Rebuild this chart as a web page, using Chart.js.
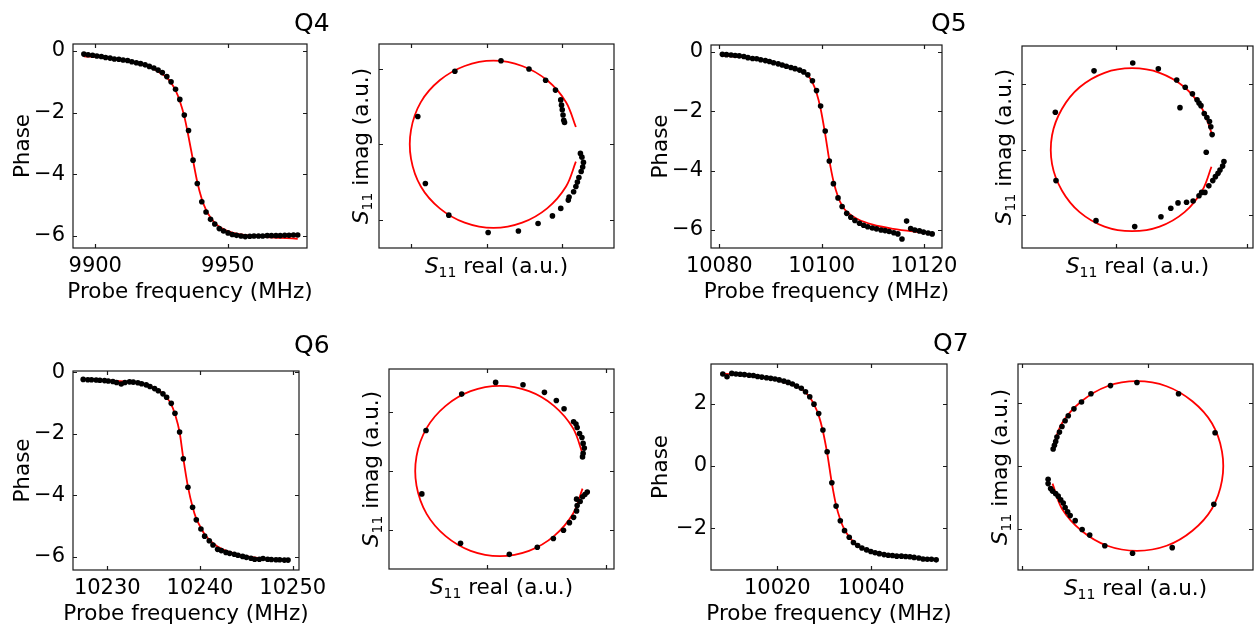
<!DOCTYPE html>
<html>
<head>
<meta charset="utf-8">
<script src="https://cdn.jsdelivr.net/npm/chart.js"></script>
<style>
  body { margin: 0; background: #fff; width: 1255px; height: 628px; position: relative; overflow: hidden; }
  canvas { position: absolute; }
</style>
</head>
<body>
<script>
// ---- phase vs probe frequency (dots) ----
const q4Freq = [9895.7, 9897.3, 9899.0, 9900.6, 9902.3, 9903.9, 9905.6, 9907.2, 9908.9, 9910.5,
  9912.2, 9913.8, 9915.5, 9917.1, 9918.8, 9920.4, 9922.1, 9923.7, 9925.3, 9927.0,
  9928.6, 9930.3, 9931.9, 9933.6, 9935.2, 9936.9, 9938.5, 9940.2, 9941.8, 9943.5,
  9945.1, 9946.8, 9948.4, 9950.1, 9951.7, 9953.3, 9955.0, 9956.6, 9958.3, 9959.9,
  9961.6, 9963.2, 9964.9, 9966.5, 9968.2, 9969.8, 9971.5, 9973.1, 9974.8, 9976.4];
const q4Phase = [-0.10, -0.12, -0.14, -0.16, -0.18, -0.21, -0.23, -0.26, -0.27, -0.29,
  -0.31, -0.35, -0.38, -0.41, -0.45, -0.50, -0.55, -0.62, -0.70, -0.83,
  -1.00, -1.24, -1.57, -2.08, -2.58, -3.54, -4.30, -4.89, -5.22, -5.46,
  -5.61, -5.76, -5.84, -5.90, -5.95, -5.98, -6.00, -6.02, -6.01, -6.00,
  -6.00, -6.00, -5.99, -5.99, -5.99, -5.99, -5.98, -5.98, -5.97, -5.97];

const q5Freq = [10080.6, 10081.4, 10082.3, 10083.1, 10083.9, 10084.8, 10085.6, 10086.5, 10087.3, 10088.1,
  10089.0, 10089.8, 10090.6, 10091.5, 10092.3, 10093.1, 10094.0, 10094.8, 10095.7, 10096.5,
  10097.3, 10098.2, 10099.0, 10099.8, 10100.7, 10101.5, 10102.3, 10103.2, 10104.0, 10104.9,
  10105.7, 10106.5, 10107.4, 10108.2, 10109.0, 10109.9, 10110.7, 10111.6, 10112.4, 10113.2,
  10114.1, 10114.9, 10115.7, 10116.6, 10117.4, 10118.2, 10119.1, 10119.9, 10120.8, 10121.6];
const q5Phase = [-0.09, -0.10, -0.11, -0.13, -0.14, -0.16, -0.20, -0.23, -0.24, -0.27,
  -0.30, -0.33, -0.37, -0.41, -0.45, -0.49, -0.53, -0.57, -0.62, -0.68,
  -0.78, -0.98, -1.31, -1.83, -2.67, -3.68, -4.44, -4.92, -5.21, -5.44,
  -5.57, -5.68, -5.77, -5.84, -5.89, -5.93, -5.96, -6.00, -6.02, -6.05,
  -6.09, -6.13, -6.30, -5.70, -5.95, -6.00, -6.03, -6.07, -6.10, -6.13];

const q6Freq = [10227.4, 10227.9, 10228.3, 10228.8, 10229.2, 10229.7, 10230.1, 10230.6, 10231.0, 10231.5,
  10231.9, 10232.4, 10232.8, 10233.3, 10233.7, 10234.2, 10234.6, 10235.1, 10235.5, 10236.0,
  10236.4, 10236.9, 10237.3, 10237.8, 10238.2, 10238.7, 10239.2, 10239.6, 10240.1, 10240.5,
  10241.0, 10241.4, 10241.9, 10242.3, 10242.8, 10243.2, 10243.7, 10244.1, 10244.6, 10245.0,
  10245.5, 10245.9, 10246.4, 10246.8, 10247.3, 10247.7, 10248.2, 10248.6, 10249.1, 10249.5];
const q6Phase = [-0.23, -0.24, -0.24, -0.25, -0.26, -0.27, -0.28, -0.30, -0.33, -0.38,
  -0.33, -0.31, -0.32, -0.34, -0.37, -0.41, -0.46, -0.53, -0.60, -0.70,
  -0.81, -1.01, -1.33, -1.94, -2.81, -3.74, -4.39, -4.80, -5.10, -5.33,
  -5.48, -5.62, -5.76, -5.80, -5.86, -5.89, -5.92, -5.95, -5.99, -6.02,
  -6.05, -6.08, -6.08, -6.06, -6.08, -6.09, -6.10, -6.10, -6.11, -6.11];

const q7Freq = [10008.4, 10009.3, 10010.3, 10011.2, 10012.1, 10013.0, 10014.0, 10014.9, 10015.8, 10016.7,
  10017.7, 10018.6, 10019.5, 10020.4, 10021.4, 10022.3, 10023.2, 10024.1, 10025.1, 10026.0,
  10026.9, 10027.8, 10028.8, 10029.7, 10030.6, 10031.6, 10032.5, 10033.4, 10034.3, 10035.3,
  10036.2, 10037.1, 10038.0, 10039.0, 10039.9, 10040.8, 10041.7, 10042.7, 10043.6, 10044.5,
  10045.4, 10046.4, 10047.3, 10048.2, 10049.1, 10050.1, 10051.0, 10051.9, 10052.8, 10053.8];
const q7Phase = [2.96, 2.87, 2.98, 2.96, 2.95, 2.94, 2.92, 2.91, 2.88, 2.86,
  2.84, 2.82, 2.80, 2.77, 2.73, 2.69, 2.64, 2.57, 2.50, 2.39,
  2.23, 1.99, 1.69, 1.16, 0.46, -0.54, -1.29, -1.76, -2.08, -2.29,
  -2.46, -2.56, -2.64, -2.70, -2.75, -2.79, -2.82, -2.85, -2.87, -2.88,
  -2.90, -2.90, -2.91, -2.92, -2.94, -2.96, -2.99, -3.00, -3.00, -3.02];

// ---- phase fits (red) ----
const q4FitFreq = [9895.7, 9903, 9910, 9915, 9919, 9922, 9924.5, 9927.0, 9928.6, 9930.3, 9931.9, 9933.6,
  9935.2, 9936.9, 9938.5, 9940.2, 9941.8, 9943.5, 9946, 9950, 9955, 9962, 9970, 9976.4];
const q4FitPhase = [-0.17, -0.22, -0.29, -0.37, -0.47, -0.58, -0.71, -0.86, -1.03, -1.28, -1.62, -2.12,
  -2.78, -3.55, -4.25, -4.80, -5.15, -5.40, -5.65, -5.84, -5.95, -6.02, -6.06, -6.09];

const q5FitFreq = [10080.6, 10085, 10089, 10092, 10094.5, 10096.5, 10097.3, 10098.2, 10099.0, 10099.8, 10100.7,
  10101.5, 10102.3, 10103.2, 10104.0, 10105, 10107, 10110, 10114, 10118, 10121.6];
const q5FitPhase = [-0.13, -0.20, -0.30, -0.42, -0.56, -0.70, -0.80, -1.03, -1.38, -1.92, -2.78,
  -3.65, -4.35, -4.88, -5.18, -5.40, -5.63, -5.82, -5.96, -6.05, -6.11];

const q6FitFreq = [10227.4, 10230, 10232, 10233.5, 10234.6, 10235.5, 10236.0, 10236.4, 10236.9, 10237.3, 10237.8,
  10238.2, 10238.7, 10239.2, 10239.6, 10240.1, 10240.5, 10241.4, 10242.5, 10244, 10246, 10249.5];
const q6FitPhase = [-0.22, -0.26, -0.30, -0.36, -0.45, -0.59, -0.69, -0.82, -1.04, -1.36, -1.95,
  -2.80, -3.72, -4.38, -4.76, -5.06, -5.27, -5.56, -5.77, -5.92, -6.03, -6.12];

const q7FitFreq = [10008.4, 10013, 10017, 10020, 10022.3, 10024.1, 10025.1, 10026.0, 10026.9, 10027.8, 10028.8,
  10029.7, 10030.6, 10031.6, 10032.5, 10033.4, 10034.3, 10035.3, 10036.2, 10038, 10042, 10048, 10053.8];
const q7FitPhase = [2.97, 2.92, 2.85, 2.76, 2.66, 2.56, 2.48, 2.37, 2.21, 1.98, 1.63,
  1.12, 0.42, -0.55, -1.26, -1.73, -2.05, -2.28, -2.44, -2.64, -2.81, -2.94, -3.03];

// ---- S11 in the complex plane (dots, arbitrary units) ----
const q4Re = [0.19, -0.42, -0.91, -0.81, -0.50, 0.02, 0.42, 0.68, 0.87, 0.98, 1.08, 1.09, 1.15, 1.18, 1.20,
  1.22, 1.25, 1.27, 1.28, 1.26, 1.24, 0.56, 0.78, 0.91, 0.98, 0.99, 1.00, 1.01, 1.02, 1.03];
const q4Im = [1.11, 0.97, 0.37, -0.52, -0.94, -1.17, -1.15, -1.05, -0.95, -0.85, -0.74, -0.70, -0.63, -0.56, -0.50,
  -0.44, -0.36, -0.30, -0.24, -0.17, -0.12, 1.00, 0.85, 0.72, 0.59, 0.52, 0.46, 0.39, 0.32, 0.29];

const q5Re = [0.26, -0.33, 0.65, 0.93, 1.06, 1.17, 1.24, 1.27, 1.30, 1.35, 1.39, 1.43, 1.45, 1.47, 0.98, 1.38,
  -0.92, -0.91, -0.30, 0.29, 0.69, 0.84, 0.95, 1.08, 1.18, 1.27, 1.31, 1.36, 1.42, 1.48, 1.52, 1.56, 1.59, 1.63, 1.65];
const q5Im = [1.32, 1.20, 1.23, 1.06, 0.95, 0.85, 0.76, 0.71, 0.67, 0.55, 0.49, 0.43, 0.35, 0.23, 0.64, -0.04,
  0.57, -0.47, -1.08, -1.17, -1.02, -0.89, -0.81, -0.80, -0.78, -0.70, -0.65, -0.65, -0.55, -0.47, -0.41, -0.36, -0.31, -0.25, -0.18];

const q6Re = [0.15, 0.61, 0.97, 1.17, 1.30, -0.42, -1.02, -1.09, -0.44, 0.38, 0.85, 1.12, 1.29, 1.39, 1.46, 1.51,
  1.52, 1.57, 1.51, 1.61, 1.65, 1.69, 1.46, 1.50, 1.52, 1.56, 1.60, 1.62, 1.64, 1.62, 1.61];
const q6Im = [1.51, 1.47, 1.34, 1.20, 1.06, 1.31, 0.69, -0.39, -1.23, -1.42, -1.30, -1.15, -1.01, -0.88, -0.79, -0.68,
  -0.59, -0.52, -0.48, -0.44, -0.40, -0.36, 0.84, 0.80, 0.74, 0.64, 0.57, 0.47, 0.39, 0.30, 0.24];

const q7Re = [-0.18, -0.60, 0.48, 1.06, 1.04, 0.38, -0.25, -0.69, -0.93, -1.05, -1.16, -1.24, -1.28, -1.32, -1.35,
  -1.39, -1.43, -1.47, -1.52, -1.55, -1.59, -1.59, -0.91, -1.06, -1.18, -1.27, -1.32, -1.37, -1.41, -1.45, -1.47, -1.49, -1.51];
const q7Im = [1.33, 1.28, 1.15, 0.53, -0.61, -1.30, -1.39, -1.27, -1.10, -1.01, -0.87, -0.79, -0.73, -0.66, -0.59,
  -0.54, -0.48, -0.44, -0.40, -0.36, -0.28, -0.21, 1.15, 1.02, 0.91, 0.80, 0.72, 0.63, 0.54, 0.46, 0.39, 0.33, 0.27];

// ---- S11 circle fits (red arcs) ----
const q4FitRe = [1.18, 1.05, 0.80, 0.47, 0.09, -0.29, -0.62, -0.87, -1.00, -1.00, -0.87, -0.62, -0.29, 0.09, 0.47, 0.80, 1.05, 1.18];
const q4FitIm = [0.23, 0.56, 0.85, 1.04, 1.11, 1.04, 0.85, 0.56, 0.19, -0.19, -0.56, -0.85, -1.04, -1.11, -1.04, -0.85, -0.56, -0.23];
const q5FitRe = [1.46, 1.32, 1.05, 0.67, 0.25, -0.17, -0.55, -0.82, -0.97, -0.97, -0.82, -0.55, -0.17, 0.25, 0.67, 1.05, 1.32, 1.46];
const q5FitIm = [0.26, 0.62, 0.95, 1.17, 1.24, 1.17, 0.95, 0.62, 0.22, -0.22, -0.62, -0.95, -1.17, -1.24, -1.17, -0.95, -0.62, -0.26];
const q6FitRe = [1.61, 1.45, 1.13, 0.71, 0.22, -0.27, -0.69, -1.01, -1.18, -1.18, -1.01, -0.69, -0.27, 0.22, 0.71, 1.13, 1.45, 1.61];
const q6FitIm = [0.30, 0.73, 1.11, 1.36, 1.45, 1.36, 1.11, 0.73, 0.25, -0.25, -0.73, -1.11, -1.36, -1.45, -1.36, -1.11, -0.73, -0.30];
const q7FitRe = [-1.52, -1.37, -1.06, -0.65, -0.18, 0.29, 0.70, 1.01, 1.17, 1.17, 1.01, 0.70, 0.29, -0.18, -0.65, -1.06, -1.37, -1.52];
const q7FitIm = [0.28, 0.68, 1.03, 1.27, 1.35, 1.27, 1.03, 0.68, 0.23, -0.23, -0.68, -1.03, -1.27, -1.35, -1.27, -1.03, -0.68, -0.28];

// ---- tick values ----
const q4FreqTicks = [9900, 9950];
const q5FreqTicks = [10080, 10100, 10120];
const q6FreqTicks = [10230, 10240, 10250];
const q7FreqTicks = [10020, 10040];
const phaseTicks = [-6, -4, -2, 0];
const q7PhaseTicks = [-2, 0, 2];
const q4ReTicks = [-1, 0, 1];
const q5ReTicks = [0, 2];
const q6ReTicks = [0, 2];
const q7ReTicks = [-2, 0];
const imTicks = [-1, 0, 1];

const qubitNames = ['Q4', 'Q5', 'Q6', 'Q7'];

// ---- drawing ----
const FONT = 'DejaVu Sans';
Chart.defaults.font.family = FONT;
Chart.defaults.color = '#000';
Chart.defaults.animation = false;

const ML = 72, MT = 40, MR = 40, MB = 60;

function minus(v) { return String(v).replace('-', '\u2212'); }

function zip(xs, ys) { return xs.map((x, i) => ({ x: x, y: ys[i] })); }

function richText(ctx, parts, cx, y) {
  let w = 0;
  parts.forEach(p => { ctx.font = p.font; p.w = ctx.measureText(p.t).width; w += p.w; });
  let x = cx - w / 2;
  parts.forEach(p => { ctx.font = p.font; ctx.fillText(p.t, x, y + (p.dy || 0)); x += p.w; });
}

function s11Parts(rest) {
  return [
    { t: 'S', font: 'italic 21.5px ' + FONT },
    { t: '11', font: '14px ' + FONT, dy: 4 },
    { t: ' ' + rest + ' (a.u.)', font: '21.5px ' + FONT }
  ];
}

const frame = {
  id: 'frame',
  afterDatasetsDraw(chart, args, o) {
    const { ctx, chartArea: a, scales: { x, y } } = chart;
    ctx.save();
    ctx.strokeStyle = '#1a1a1a';
    ctx.lineWidth = 1.2;
    ctx.strokeRect(a.left, a.top, a.right - a.left, a.bottom - a.top);
    ctx.beginPath();
    o.xTicks.forEach(v => {
      const px = Math.round(x.getPixelForValue(v)) + 0.5;
      ctx.moveTo(px, a.bottom); ctx.lineTo(px, a.bottom - 4);
      ctx.moveTo(px, a.top); ctx.lineTo(px, a.top + 4);
    });
    o.yTicks.forEach(v => {
      const py = Math.round(y.getPixelForValue(v)) + 0.5;
      ctx.moveTo(a.left, py); ctx.lineTo(a.left + 4, py);
      ctx.moveTo(a.right, py); ctx.lineTo(a.right - 4, py);
    });
    ctx.stroke();

    ctx.fillStyle = '#000';
    ctx.textBaseline = 'alphabetic';
    const midX = (a.left + a.right) / 2, midY = (a.top + a.bottom) / 2;
    const xp = o.iq ? s11Parts('real') : [{ t: 'Probe frequency (MHz)', font: '21.5px ' + FONT }];
    const yp = o.iq ? s11Parts('imag') : [{ t: 'Phase', font: '21.5px ' + FONT }];
    richText(ctx, xp, midX, a.bottom + (o.iq ? 25 : 50));
    ctx.save();
    ctx.translate(a.left - (o.iq ? 11.5 : 44), midY);
    ctx.rotate(-Math.PI / 2);
    richText(ctx, yp, 0, 0);
    ctx.restore();

    if (o.title) {
      ctx.font = '25px ' + FONT;
      ctx.textAlign = 'left';
      ctx.fillText(o.title.text, o.title.x, o.title.y);
    }
    ctx.restore();
  }
};

const panels = [
  { box: [73, 44, 307, 248], iq: false, xs: q4Freq, ys: q4Phase, fx: q4FitFreq, fy: q4FitPhase,
    xlim: [9891.6, 9979.9], ylim: [-6.39, 0.227], xt: q4FreqTicks, yt: phaseTicks, ypad: 8, title: [0, 294, 31] },
  { box: [379, 44, 614, 248], iq: true, xs: q4Re, ys: q4Im, fx: q4FitRe, fy: q4FitIm,
    xlim: [-1.423, 1.684], ylim: [-1.376, 1.332], xt: q4ReTicks, yt: imTicks },
  { box: [711, 45, 942, 248], iq: false, xs: q5Freq, ys: q5Phase, fx: q5FitFreq, fy: q5FitPhase,
    xlim: [10078.38, 10123.52], ylim: [-6.605, 0.225], xt: q5FreqTicks, yt: phaseTicks, ypad: 8, title: [1, 931, 31] },
  { box: [1022, 46, 1253, 248], iq: true, xs: q5Re, ys: q5Im, fx: q5FitRe, fy: q5FitIm,
    xlim: [-1.428, 2.093], ylim: [-1.496, 1.578], xt: q5ReTicks, yt: imTicks },
  { box: [73, 371, 299, 570], iq: false, xs: q6Freq, ys: q6Phase, fx: q6FitFreq, fy: q6FitPhase,
    xlim: [10226.30, 10250.68], ylim: [-6.432, 0.043], xt: q6FreqTicks, yt: phaseTicks, ypad: 8, title: [2, 294, 353] },
  { box: [389, 369, 614, 569], iq: true, xs: q6Re, ys: q6Im, fx: q6FitRe, fy: q6FitIm,
    xlim: [-1.642, 2.139], ylim: [-1.670, 1.738], xt: q6ReTicks, yt: imTicks },
  { box: [711, 364, 947, 570], iq: false, xs: q7Freq, ys: q7Phase, fx: q7FitFreq, fy: q7FitPhase,
    xlim: [10005.89, 10056.1], ylim: [-3.346, 3.282], xt: q7FreqTicks, yt: q7PhaseTicks, ypad: 4, title: [3, 933, 351] },
  { box: [1018, 364, 1253, 570], iq: true, xs: q7Re, ys: q7Im, fx: q7FitRe, fy: q7FitIm,
    xlim: [-2.068, 1.662], ylim: [-1.656, 1.624], xt: q7ReTicks, yt: imTicks }
];

function makePanel(p) {
  const c = document.createElement('canvas');
  const left = p.box[0] - ML, top = p.box[1] - MT;
  c.width = p.box[2] - p.box[0] + ML + MR;
  c.height = p.box[3] - p.box[1] + MT + MB;
  c.style.left = left + 'px';
  c.style.top = top + 'px';
  document.body.appendChild(c);

  const title = p.title ? { text: qubitNames[p.title[0]], x: p.title[1] - left, y: p.title[2] - top } : null;

  new Chart(c, {
    type: 'scatter',
    data: {
      datasets: [
        { data: zip(p.xs, p.ys), pointRadius: 2.8, pointHoverRadius: 2.8,
          pointBackgroundColor: '#000', pointBorderWidth: 0, showLine: false },
        { data: zip(p.fx, p.fy), showLine: true, borderColor: '#ff0000', borderWidth: 1.8,
          pointRadius: 0, fill: false,
          tension: p.iq ? 0.34 : 0.4, cubicInterpolationMode: p.iq ? 'default' : 'monotone' }
      ]
    },
    options: {
      responsive: false,
      animation: false,
      events: [],
      layout: { padding: { left: 0, top: MT, right: MR, bottom: 0 } },
      plugins: {
        legend: { display: false },
        tooltip: { enabled: false },
        frame: { iq: p.iq, xTicks: p.xt, yTicks: p.yt, title: title }
      },
      scales: {
        x: {
          type: 'linear', min: p.xlim[0], max: p.xlim[1],
          grid: { display: false, drawTicks: false }, border: { display: false },
          ticks: { display: !p.iq, padding: 6, maxRotation: 0, autoSkip: false, color: '#000',
                   font: { size: 21 }, callback: v => minus(v) },
          afterBuildTicks: s => { s.ticks = p.xt.map(v => ({ value: v })); },
          afterFit: s => { s.height = MB; }
        },
        y: {
          type: 'linear', min: p.ylim[0], max: p.ylim[1],
          grid: { display: false, drawTicks: false }, border: { display: false },
          ticks: { display: !p.iq, padding: p.ypad || 8, autoSkip: false, color: '#000',
                   font: { size: 21 }, callback: v => minus(v) },
          afterBuildTicks: s => { s.ticks = p.yt.map(v => ({ value: v })); },
          afterFit: s => { s.width = ML; }
        }
      }
    },
    plugins: [frame]
  });
}

panels.forEach(makePanel);
</script>
</body>
</html>
